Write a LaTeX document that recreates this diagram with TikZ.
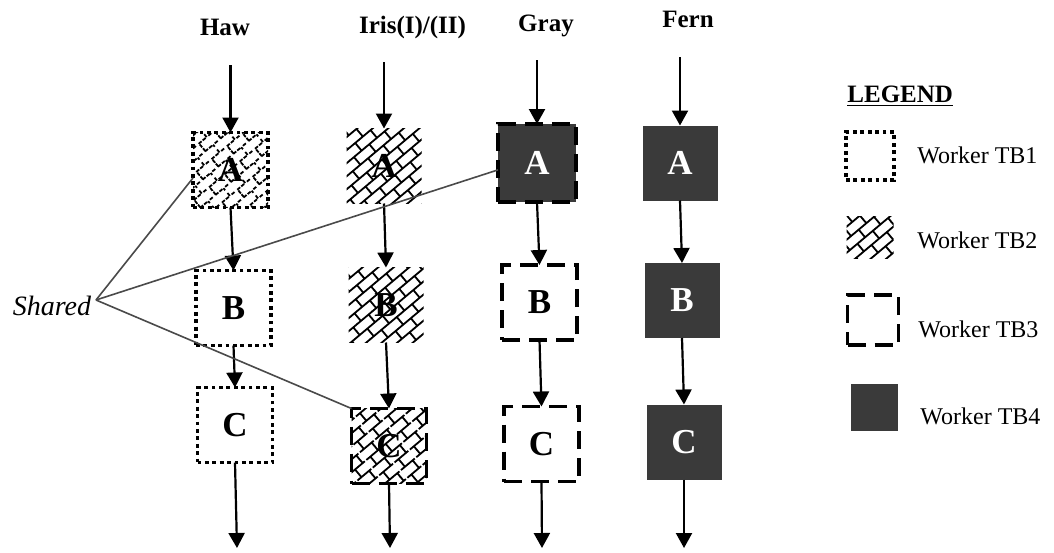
\documentclass[tikz,border=0pt]{standalone}
\usepackage{fontspec}
\setmainfont{Liberation Serif}
\usetikzlibrary{arrows.meta,patterns.meta}

% diagonal brick hatching used for worker TB2
\pgfdeclarepattern{
  name=brickhatch,
  type=uncolored,
  bottom left={\pgfpoint{-0.1pt}{-0.1pt}},
  top right={\pgfpoint{10.1pt}{10.1pt}},
  tile size={\pgfpoint{10pt}{10pt}},
  tile transformation={\pgftransformrotate{40}},
  code={
    \pgfsetlinewidth{0.9pt}
    \pgfpathmoveto{\pgfpoint{-0.1pt}{2.5pt}}\pgfpathlineto{\pgfpoint{10.1pt}{2.5pt}}
    \pgfpathmoveto{\pgfpoint{-0.1pt}{7.5pt}}\pgfpathlineto{\pgfpoint{10.1pt}{7.5pt}}
    \pgfpathmoveto{\pgfpoint{2.5pt}{2.5pt}}\pgfpathlineto{\pgfpoint{2.5pt}{7.5pt}}
    \pgfpathmoveto{\pgfpoint{7.5pt}{7.5pt}}\pgfpathlineto{\pgfpoint{7.5pt}{10.1pt}}
    \pgfpathmoveto{\pgfpoint{7.5pt}{-0.1pt}}\pgfpathlineto{\pgfpoint{7.5pt}{2.5pt}}
    \pgfusepath{stroke}
  }
}

\definecolor{tbdark}{HTML}{3A3A3A}
\definecolor{shareline}{HTML}{4A4A4A}

\begin{document}
\begin{tikzpicture}[x=0.5pt,y=-0.5pt,
  box/.style={minimum width=37.5pt,minimum height=37.5pt,inner sep=0pt,outer sep=0pt,
    font=\fontsize{17.5}{17.5}\selectfont\bfseries},
  tbone/.style={draw,line width=1.9pt,dash pattern=on 1.9pt off 1.8pt},
  tbtwo/.style={pattern=brickhatch},
  tbthree/.style={draw,line width=1.9pt,dash pattern=on 9pt off 4.5pt},
  tbfour/.style={fill=tbdark,text=white},
  flow/.style={line width=1.1pt,-{Triangle[length=7.5pt,width=8pt]}},
  share/.style={draw=shareline,line width=0.8pt},
  title/.style={font=\fontsize{12.5}{14}\selectfont\bfseries,anchor=base},
  legtext/.style={font=\fontsize{12}{14}\selectfont,anchor=base west}
]
\fill[white] (0,0) rectangle (1054,552);
\useasboundingbox (0,0) rectangle (1054,552);

% column titles
\node[title] (tHaw)  at (225,35) {Haw};
\node[title,anchor=base west] (tIris) at (352,33) {Iris(I)/(II)};
\node[title] (tGray) at (546,31) {Gray};
\node[title] (tFern) at (688,27) {Fern};

% Haw
\node[box,tbtwo,tbone] (hA) at (230.5,170) {A};
\node[box,tbone] (hB) at (233.5,308) {B};
\node[box,tbone] (hC) at (235,425) {C};
% Iris
\node[box,tbtwo] (iA) at (384,166) {A};
\node[box,tbtwo] (iB) at (386,305) {B};
\node[box,tbtwo,tbthree] (iC) at (389,446) {C};
% Gray
\node[box,tbfour,tbthree,minimum size=39pt] (gA) at (537,163) {A};
\node[box,tbthree] (gB) at (539.5,302.5) {B};
\node[box,tbthree] (gC) at (541.5,444) {C};
% Fern
\node[box,tbfour] (fA) at (680,163) {A};
\node[box,tbfour] (fB) at (682,300.5) {B};
\node[box,tbfour] (fC) at (684,442) {C};

% entry and exit points of each column
\coordinate (hIn)  at (230.5,65);
\coordinate (iIn)  at (384,62);
\coordinate (gIn)  at (537,60);
\coordinate (fIn)  at (680,57);
\coordinate (hOut) at (237,548);
\coordinate (iOut) at (390,548);
\coordinate (gOut) at (542,548);
\coordinate (fOut) at (684,548);

\foreach \c in {h,i,g,f}{
  \draw[flow] (\c In) -- (\c A.north);
  \draw[flow] (\c A.south) -- (\c B.north);
  \draw[flow] (\c B.south) -- (\c C.north);
  \draw[flow] (\c C.south) -- (\c Out);
}

% shared stages
\node[font=\fontsize{14}{16}\selectfont\itshape,anchor=base] (shared) at (52,315) {Shared};
\coordinate (hub) at (96,300);
\draw[share] (hub) -- (hA.192);
\draw[share] (hub) -- (gA.190);
\draw[share] (hub) -- (iC.north west);

% legend
\node[font=\fontsize{12.5}{14}\selectfont\bfseries,anchor=base west,inner sep=0pt] (leg) at (847,102) {\underline{LEGEND}};
\node[tbone,minimum width=24pt,minimum height=24pt,inner sep=0pt,outer sep=0pt] (k1) at (870,156) {};
\node[tbtwo,minimum width=23.5pt,minimum height=21pt,inner sep=0pt,outer sep=0pt] (k2) at (870,237) {};
\node[tbthree,minimum width=25.5pt,minimum height=25pt,inner sep=0pt,outer sep=0pt] (k3) at (873,320) {};
\node[tbfour,minimum width=23.5pt,minimum height=23.5pt,inner sep=0pt,outer sep=0pt] (k4) at (874,407) {};
\node[legtext,inner sep=0pt] (l1) at (917,163) {Worker TB1};
\node[legtext,inner sep=0pt] (l2) at (917,248) {Worker TB2};
\node[legtext,inner sep=0pt] (l3) at (918,337) {Worker TB3};
\node[legtext,inner sep=0pt] (l4) at (920,424) {Worker TB4};
\end{tikzpicture}
\end{document}
